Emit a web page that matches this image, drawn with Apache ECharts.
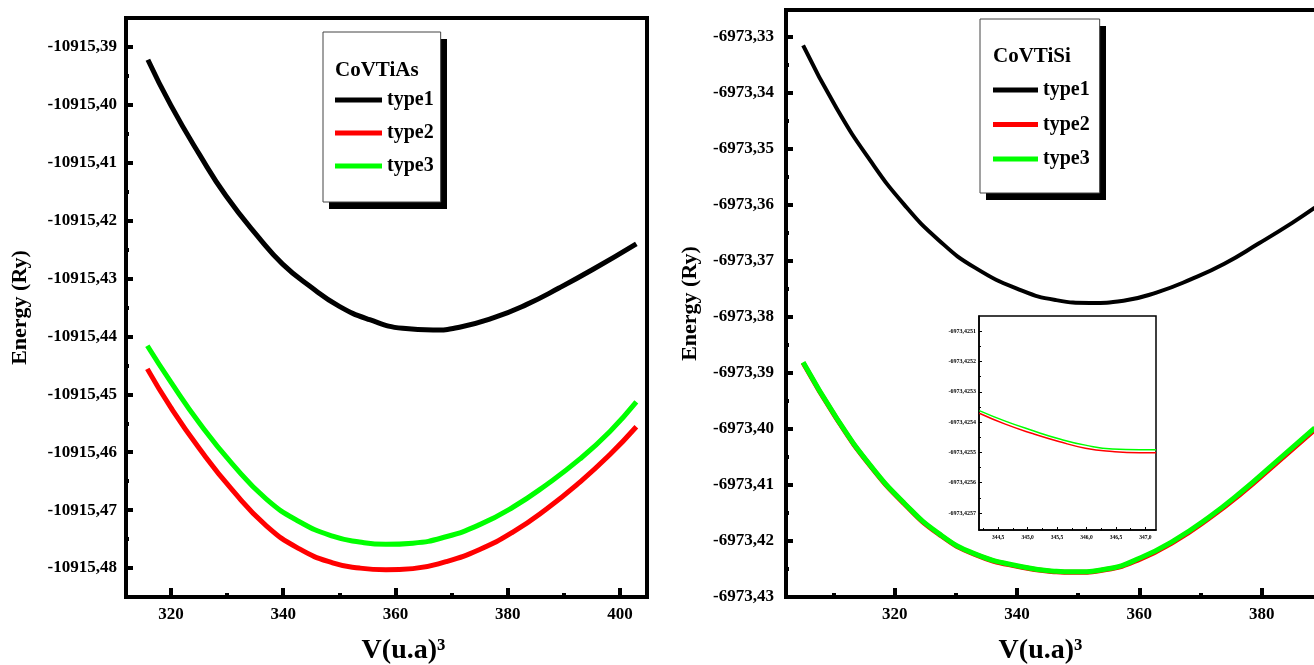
<!DOCTYPE html>
<html>
<head>
<meta charset="utf-8">
<title>CoVTiAs / CoVTiSi energy - volume</title>
<script src="https://cdn.jsdelivr.net/npm/echarts@6/dist/echarts.min.js"></script>
<style>
html, body { margin: 0; padding: 0; background: #fff; overflow: hidden; }
#chart { width: 1345px; height: 665px; }
</style>
</head>
<body>
<div id="chart"></div>
<script>
var FONT = "'Liberation Serif', 'Times New Roman', serif";

// ---- CoVTiAs (left panel) ----
var asVol1 = [315.9, 320.0, 325.1, 329.8, 335.8, 339.9, 344.7, 350.0, 355.4, 361.3, 366.7, 371.4, 377.4, 383.3, 389.2, 395.2, 402.9];
var asEn1 = [-10915.3922, -10915.4001, -10915.4086, -10915.4157, -10915.4231, -10915.4275, -10915.4313, -10915.4348, -10915.4371,
  -10915.4386, -10915.4389, -10915.4384, -10915.4368, -10915.4345, -10915.4316, -10915.4284, -10915.4240];
var asVol23 = [315.8, 320.0, 325.1, 331.0, 337.0, 342.9, 348.8, 353.6, 358.3, 363.1, 369.0, 375.0, 380.9, 386.9, 392.8, 398.2, 402.9];
var asEn2 = [-10915.4456, -10915.4523, -10915.4594, -10915.4666, -10915.4727, -10915.4767, -10915.4791, -10915.4800, -10915.4803,
  -10915.4801, -10915.4789, -10915.4768, -10915.4738, -10915.4698, -10915.4652, -10915.4604, -10915.4556];
var asEn3 = [-10915.4416, -10915.4479, -10915.4550, -10915.4621, -10915.4681, -10915.4720, -10915.4745, -10915.4755, -10915.4759,
  -10915.4757, -10915.4746, -10915.4725, -10915.4695, -10915.4656, -10915.4612, -10915.4564, -10915.4513];

// ---- CoVTiSi (right panel) ----
var siVol1 = [305.0, 310.5, 316.0, 321.5, 327.1, 333.1, 340.8, 346.4, 351.9, 357.4, 362.9, 368.4, 373.9, 379.5, 385.0, 388.7];
var siEn1 = [-6973.3315, -6973.3428, -6973.3521, -6973.3599, -6973.3662, -6973.3712, -6973.3753, -6973.3770, -6973.3775,
  -6973.3771, -6973.3756, -6973.3733, -6973.3705, -6973.3669, -6973.3632, -6973.3605];
var siVol23 = [305.0, 310.5, 316.0, 321.5, 327.1, 333.1, 340.8, 346.4, 349.1, 354.6, 360.2, 365.7, 371.2, 376.7, 382.2, 388.7];
var siEn2 = [-6973.3882, -6973.3982, -6973.4066, -6973.4133, -6973.4187, -6973.4224, -6973.4247, -6973.4255, -6973.4256,
  -6973.4251, -6973.4232, -6973.4201, -6973.4161, -6973.4115, -6973.4063, -6973.4001];
var siEn3 = [-6973.3881, -6973.3981, -6973.4065, -6973.4132, -6973.4186, -6973.4223, -6973.4246, -6973.4254, -6973.4255,
  -6973.4250, -6973.4230, -6973.4199, -6973.4159, -6973.4112, -6973.4060, -6973.3998];

// ---- CoVTiSi inset (zoom near minimum) ----
var inVol = [344.18, 344.61, 345.07, 345.53, 345.98, 346.44, 346.90, 347.18];
var inEn2 = [-6973.425371, -6973.425406, -6973.425437, -6973.425464, -6973.425486, -6973.425497, -6973.425501, -6973.425501];
var inEn3 = [-6973.425362, -6973.425396, -6973.425427, -6973.425455, -6973.425476, -6973.425489, -6973.425491, -6973.425491];

// ---- ticks ----
var asXTicks = [320, 340, 360, 380, 400];
var asXMinor = [330, 350, 370, 390];
var asYTicks = [-10915.39, -10915.40, -10915.41, -10915.42, -10915.43, -10915.44, -10915.45, -10915.46, -10915.47, -10915.48];
var asYMinor = [-10915.395, -10915.405, -10915.415, -10915.425, -10915.435, -10915.445, -10915.455, -10915.465, -10915.475];
var siXTicks = [320, 340, 360, 380];
var siXMinor = [310, 330, 350, 370, 390];
var siYTicks = [-6973.33, -6973.34, -6973.35, -6973.36, -6973.37, -6973.38, -6973.39, -6973.40, -6973.41, -6973.42, -6973.43];
var siYMinor = [-6973.335, -6973.345, -6973.355, -6973.365, -6973.375, -6973.385, -6973.395, -6973.405, -6973.415, -6973.425];
var inXTicks = [344.5, 345.0, 345.5, 346.0, 346.5, 347.0];
var inXMinor = [344.25, 344.75, 345.25, 345.75, 346.25, 346.75];
var inYTicks = [-6973.4251, -6973.4252, -6973.4253, -6973.4254, -6973.4255, -6973.4256, -6973.4257];
var inYMinor = [-6973.42515, -6973.42525, -6973.42535, -6973.42545, -6973.42555, -6973.42565];

var legendNames = ['type1', 'type2', 'type3'];

function zip(xs, ys) {
  return xs.map(function (x, i) { return [x, ys[i]]; });
}

function comma(digits) {
  return function (v) { return v.toFixed(digits).replace('.', ','); };
}

// main axis: line + long ticks + labels
function mainAxis(grid, pos, min, max, ticks, o) {
  return {
    type: 'value', gridIndex: grid, position: pos, min: min, max: max, scale: true,
    axisLine: { show: true, onZero: false, lineStyle: { color: '#000', width: o.lineW } },
    axisTick: { show: true, inside: true, length: o.tickLen, customValues: ticks, lineStyle: { color: '#000', width: o.tickW } },
    axisLabel: {
      show: true, customValues: ticks, margin: o.margin, formatter: comma(o.digits),
      color: '#000', fontFamily: FONT, fontWeight: 'bold', fontSize: o.fontSize
    },
    splitLine: { show: false },
    name: o.name || '', nameLocation: 'middle', nameGap: o.nameGap || 0,
    nameTextStyle: { color: '#000', fontFamily: FONT, fontWeight: 'bold', fontSize: o.nameSize || 12, padding: o.namePad || 0 }
  };
}

// minor axis: only short ticks
function minorAxis(grid, pos, min, max, ticks, len, w) {
  return {
    type: 'value', gridIndex: grid, position: pos, min: min, max: max, scale: true,
    axisLine: { show: false, onZero: false },
    axisTick: { show: true, inside: true, length: len, customValues: ticks, lineStyle: { color: '#000', width: w } },
    axisLabel: { show: false },
    splitLine: { show: false }
  };
}

function line(name, data, color, width, xi) {
  return {
    type: 'line', name: name, data: data, xAxisIndex: xi, yAxisIndex: xi,
    smooth: 0.5, symbol: 'none', silent: true,
    itemStyle: { color: color },
    lineStyle: { color: color, width: width }
  };
}

function legendBox(left, top, pad, iconW, gap) {
  return {
    data: legendNames, orient: 'vertical', left: left, top: top, padding: pad, z: 5,
    icon: 'rect', itemWidth: iconW, itemHeight: 5, itemGap: gap, selectedMode: false,
    backgroundColor: '#fff', borderColor: '#444', borderWidth: 1,
    textStyle: { color: '#000', fontFamily: FONT, fontWeight: 'bold', fontSize: 20 }
  };
}

var chart = echarts.init(document.getElementById('chart'));

var option = {
  animation: false,
  backgroundColor: '#fff',
  title: [
    { text: 'CoVTiAs', left: 335, top: 60, padding: 0, z: 6, textStyle: { color: '#000', fontFamily: FONT, fontWeight: 'bold', fontSize: 21 } },
    { text: 'CoVTiSi', left: 993, top: 46, padding: 0, z: 6, textStyle: { color: '#000', fontFamily: FONT, fontWeight: 'bold', fontSize: 21 } }
  ],
  legend: [
    legendBox(323, 32, [58, 7, 26, 12], 47, 13),
    legendBox(980, 19, [61, 10, 24, 13], 45, 14.5)
  ],
  // drop shadows behind the two legend boxes
  graphic: [
    { type: 'rect', z: 4, shape: { x: 329, y: 39, width: 118, height: 170 }, style: { fill: '#000' }, silent: true },
    { type: 'rect', z: 4, shape: { x: 986, y: 26, width: 120, height: 174 }, style: { fill: '#000' }, silent: true }
  ],
  grid: [
    { left: 126, top: 18, width: 521, height: 579, show: true, borderColor: '#000', borderWidth: 4, backgroundColor: 'transparent', outerBoundsMode: 'none', containLabel: false },
    { left: 786, top: 10, width: 549, height: 587, show: true, borderColor: '#000', borderWidth: 4, backgroundColor: 'transparent', outerBoundsMode: 'none', containLabel: false },
    { left: 979, top: 316, width: 177, height: 214, show: true, borderColor: '#000', borderWidth: 1.5, backgroundColor: '#fff', outerBoundsMode: 'none', containLabel: false }
  ],
  xAxis: [
    mainAxis(0, 'bottom', 312, 404.8, asXTicks, { lineW: 4, tickLen: 9, tickW: 4, margin: 9, digits: 0, fontSize: 17,
      name: 'V(u.a)³', nameGap: 40, nameSize: 28, namePad: [0, 0, 0, 34] }),
    minorAxis(0, 'bottom', 312, 404.8, asXMinor, 4, 4),
    mainAxis(1, 'bottom', 302.2, 392, siXTicks, { lineW: 4, tickLen: 9, tickW: 4, margin: 9, digits: 0, fontSize: 17,
      name: 'V(u.a)³', nameGap: 40, nameSize: 28, namePad: [0, 40, 0, 0] }),
    minorAxis(1, 'bottom', 302.2, 392, siXMinor, 4, 4),
    mainAxis(2, 'bottom', 344.175, 347.18, inXTicks, { lineW: 1.5, tickLen: 3, tickW: 1, margin: 5, digits: 1, fontSize: 5.5 }),
    minorAxis(2, 'bottom', 344.175, 347.18, inXMinor, 2, 1)
  ],
  yAxis: [
    mainAxis(0, 'left', -10915.485, -10915.385, asYTicks, { lineW: 4, tickLen: 7, tickW: 4, margin: 9, digits: 2, fontSize: 17,
      name: 'Energy (Ry)', nameGap: 95, nameSize: 22 }),
    minorAxis(0, 'left', -10915.485, -10915.385, asYMinor, 3, 4),
    mainAxis(1, 'left', -6973.43, -6973.3252, siYTicks, { lineW: 4, tickLen: 7, tickW: 4, margin: 12, digits: 2, fontSize: 17,
      name: 'Energy (Ry)', nameGap: 85, nameSize: 22 }),
    minorAxis(1, 'left', -6973.43, -6973.3252, siYMinor, 3, 4),
    mainAxis(2, 'left', -6973.425756, -6973.42505, inYTicks, { lineW: 1.5, tickLen: 3, tickW: 1, margin: 3, digits: 4, fontSize: 6 }),
    minorAxis(2, 'left', -6973.425756, -6973.42505, inYMinor, 2, 1)
  ],
  series: [
    line('type1', zip(asVol1, asEn1), '#000000', 5, 0),
    line('type2', zip(asVol23, asEn2), '#ff0000', 5, 0),
    line('type3', zip(asVol23, asEn3), '#00ff00', 5, 0),
    line('type1', zip(siVol1, siEn1), '#000000', 4, 2),
    line('type2', zip(siVol23, siEn2), '#ff0000', 5, 2),
    line('type3', zip(siVol23, siEn3), '#00ff00', 5, 2),
    line('type2', zip(inVol, inEn2), '#ff0000', 1.5, 4),
    line('type3', zip(inVol, inEn3), '#00ff00', 1.5, 4)
  ]
};

chart.setOption(option);
</script>
</body>
</html>
